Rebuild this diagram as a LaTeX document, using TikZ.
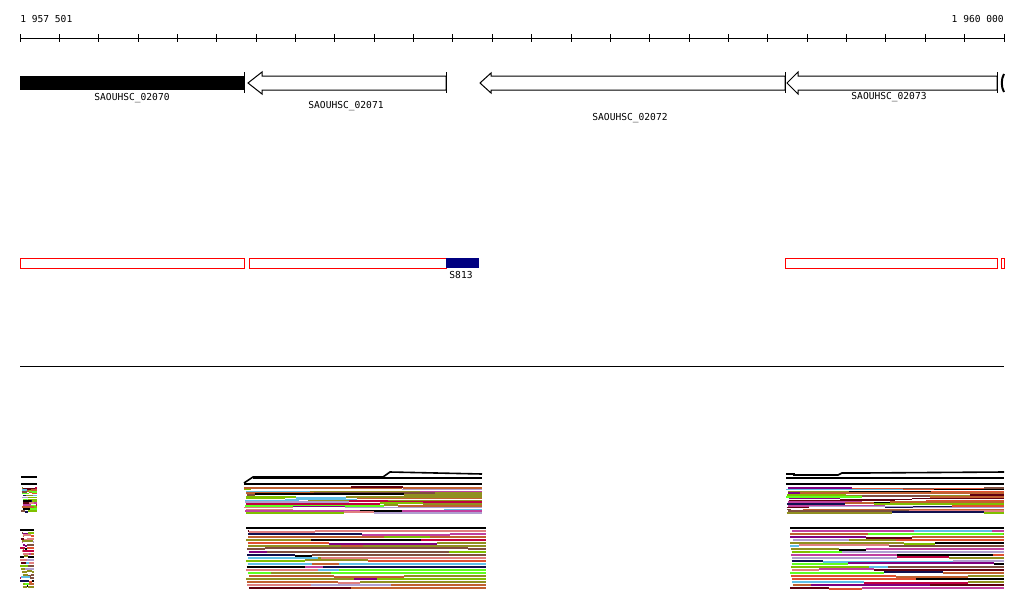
\documentclass[tikz,border=0pt]{standalone}
\usepackage{fontspec}
\setmonofont{DejaVu Sans Mono}
\usetikzlibrary{calc}
\usepackage{xcolor}

\definecolor{rbrown}{HTML}{7F4F3F}
\definecolor{rlav}{HTML}{B0A0D0}
\definecolor{rmag}{HTML}{C040A0}
\definecolor{rsky}{HTML}{60C0E8}
\definecolor{rnavy}{HTML}{101050}
\definecolor{rpurp}{HTML}{800080}
\definecolor{rgreen}{HTML}{60FF20}
\definecolor{rolive}{HTML}{909020}
\definecolor{rorange}{HTML}{E05030}
\definecolor{rcrim}{HTML}{C00040}
\definecolor{rsienna}{HTML}{C06030}
\definecolor{rygreen}{HTML}{80C000}
\definecolor{rdark}{HTML}{600010}
\definecolor{rpink}{HTML}{E08080}
\definecolor{featblue}{HTML}{000080}

\pgfmathdeclarerandomlist{readcol}{{black}{rbrown}{rlav}{rmag}{rsky}{rnavy}{rpurp}{rgreen}{rolive}{rorange}{rcrim}{rsienna}{rygreen}{rdark}{rpink}{rolive}{rsienna}}

% rows of reads: x0, x1, y0, dy, n
\newcommand{\readrows}[5]{%
  \foreach \r in {1,...,#5}{
    \pgfmathrandomitem{\ca}{readcol}
    \pgfmathrandomitem{\cb}{readcol}
    \pgfmathrandomitem{\cc}{readcol}
    \pgfmathsetmacro{\yy}{#3+\r*#4}
    \pgfmathsetmacro{\xs}{#1+3*rnd}
    \pgfmathsetmacro{\xa}{\xs+(#2-\xs)*rnd*0.6}
    \pgfmathsetmacro{\xb}{\xa+(#2-\xa)*rnd}
    \pgfmathsetmacro{\yj}{\yy+random(-1,1)}
    \draw[read, draw=\ca] (\xs,\yy) -- (\xa,\yy);
    \draw[read, draw=\cb] (\xa,\yj) -- (\xb,\yj);
    \draw[read, draw=\cc] (\xb,\yy) -- (#2,\yy);
  }
}

\begin{document}
\begin{tikzpicture}[
    x=0.75pt, y=-0.75pt,
    lbl/.style={font=\ttfamily\fontsize{7.2}{8}\selectfont, inner sep=0pt},
    gene/.style={draw=black, line width=0.75pt, fill=white},
    feat/.style={draw=red, line width=0.75pt},
    read/.style={line width=1.2pt},
]
    \useasboundingbox (0,0) rectangle (1024,611);
    \pgfmathsetseed{7}

    % Ruler
    \node[lbl, anchor=west] (start) at (20,19) {1 957 501};
    \node[lbl, anchor=east] (stop) at (1004,19) {1 960 000};
    \draw[line width=0.75pt] (20,38) -- (1004,38);
    \foreach \k in {0,...,25}
        \draw[line width=0.75pt] ({20+\k*39.36},34) -- ({20+\k*39.36},42);

    % Genes
    \fill[black] (20,76) rectangle (244,90);
    \draw[line width=0.75pt] (244,72) -- (244,93);
    \node[lbl] (g70) at (132,98) {SAOUHSC\_02070};

    \draw[gene] (248,83) -- (262,72) -- (262,76) -- (446,76) -- (446,90) -- (262,90) -- (262,94) -- cycle;
    \draw[line width=0.75pt] (446,72) -- (446,93);
    \node[lbl] (g71) at (346,106) {SAOUHSC\_02071};

    \draw[gene] (480,83) -- (491,73) -- (491,76) -- (785,76) -- (785,90) -- (491,90) -- (491,93) -- cycle;
    \draw[line width=0.75pt] (785,72) -- (785,93);
    \node[lbl] (g72) at (630,118) {SAOUHSC\_02072};

    \draw[gene] (787,83) -- (798,72) -- (798,76) -- (997,76) -- (997,90) -- (798,90) -- (798,94) -- cycle;
    \draw[line width=0.75pt] (997,72) -- (997,93);
    \node[lbl] (g73) at (889,97) {SAOUHSC\_02073};
    \draw[line width=1.5pt] (1004,74) .. controls (1001,79) and (1001,87) .. (1004,92);

    % Features
    \draw[feat] (20,258) rectangle (244,268);
    \draw[feat] (249,258) rectangle (446,268);
    \fill[featblue] (446,258) rectangle (479,268);
    \node[lbl] (s813) at (461,275) {S813};
    \draw[feat] (785,258) rectangle (997,268);
    \draw[feat] (1001,258) rectangle (1004,268);

    \draw[line width=0.75pt] (20,366) -- (1004,366);

    % Reads, left
    \draw[line width=1.5pt] (21,477) -- (37,477);
    \draw[read] (21,484) -- (37,484);
    \readrows{21}{37}{486}{1.9}{13}
    \draw[read] (20,530) -- (34,530);
    \readrows{20}{34}{530}{3}{19}

    % Reads, middle
    \draw[read] (244,483) -- (253,477) -- (383,477) -- (390,472) -- (482,474);
    \draw[line width=1.2pt] (253,478) -- (482,478);
    \draw[read] (244,484) -- (482,484);
    \readrows{244}{482}{486}{1.8}{15}
    \draw[read] (246,528) -- (486,528);
    \readrows{246}{486}{528}{3}{20}

    % Reads, right
    \draw[read] (786,474) -- (794,474) -- (794,475) -- (838,475) -- (842,473) -- (862,473) -- (1004,472);
    \draw[read] (786,478) -- (1004,478);
    \draw[read] (786,484) -- (1004,484);
    \readrows{786}{1004}{486}{1.8}{15}
    \draw[read] (790,528) -- (1004,528);
    \readrows{790}{1004}{528}{3}{20}
\end{tikzpicture}
\end{document}
